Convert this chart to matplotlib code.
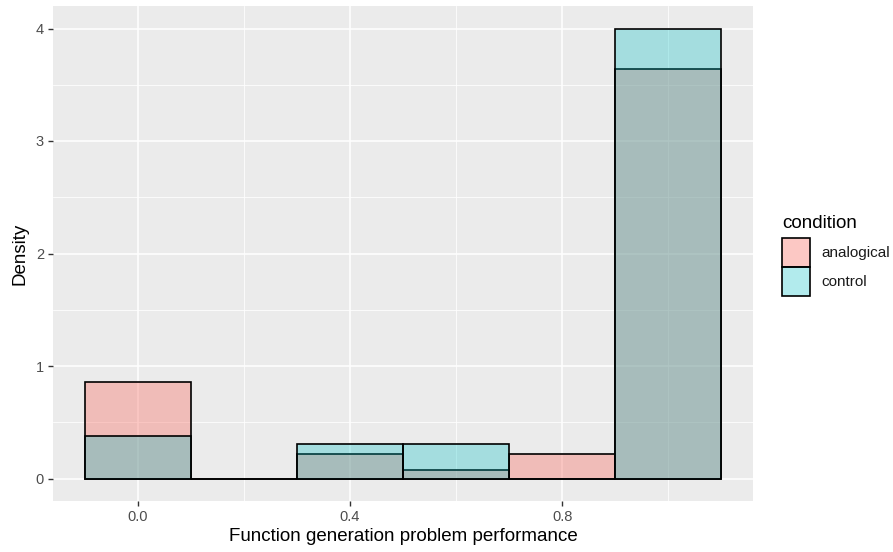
import matplotlib
matplotlib.use("Agg")
import matplotlib.pyplot as plt
from matplotlib.patches import Patch
from matplotlib.ticker import MultipleLocator
from matplotlib.colors import to_rgba

bin_centers = [0.0, 0.2, 0.4, 0.6, 0.8, 1.0]
analogical = [0.857, 0.0, 0.214, 0.0714, 0.214, 3.643]
control = [0.379, 0.0, 0.303, 0.303, 0.0, 4.0]
conditions = ["analogical", "control"]
x_ticks = [0.0, 0.4, 0.8]
x_tick_labels = ["0.0", "0.4", "0.8"]
y_ticks = [0, 1, 2, 3, 4]

plt.rcParams["font.family"] = ["Liberation Sans", "DejaVu Sans"]

colors = {"analogical": "#F8766D", "control": "#00BFC4"}
alphas = {"analogical": 0.4, "control": 0.3}
bw = 0.2

fig = plt.figure(figsize=(8.93, 5.52), dpi=100)
W, H = 893, 552
ax = fig.add_axes([53 / W, 1 - 501 / H, (753 - 53) / W, (501 - 6) / H])
ax.set_facecolor("#EBEBEB")
for s in ax.spines.values():
    s.set_visible(False)

ax.set_xlim(-0.16, 1.16)
ax.set_ylim(-0.2, 4.2)
ax.set_xticks(x_ticks)
ax.set_xticklabels(x_tick_labels)
ax.set_yticks(y_ticks)
ax.xaxis.set_minor_locator(MultipleLocator(0.2))
ax.yaxis.set_minor_locator(MultipleLocator(0.5))
ax.grid(which="major", color="white", linewidth=1.1)
ax.grid(which="minor", color="white", linewidth=0.55)
ax.set_axisbelow(True)
ax.tick_params(which="major", length=3.5, width=1.0, color="#333333",
               labelsize=10.5, labelcolor="#4D4D4D", pad=3)
ax.tick_params(which="minor", length=0)

z = 2
for name, vals in (("analogical", analogical), ("control", control)):
    ax.bar(bin_centers, vals, width=bw,
           color=to_rgba(colors[name], alphas[name]),
           edgecolor="none", zorder=z)
    ax.bar(bin_centers, vals, width=bw, fill=False, edgecolor="black",
           linewidth=1.2, zorder=z + 0.5)
    z += 1

ax.set_xlabel("Function generation problem performance", fontsize=13.5,
              labelpad=3, color="black")
ax.set_ylabel("Density", fontsize=13.5, labelpad=5, color="black")

handles = [Patch(facecolor=to_rgba(colors[c], alphas[c]),
                 edgecolor="black", linewidth=1.2) for c in conditions]
leg = fig.legend(handles, conditions, loc="upper left",
                 bbox_to_anchor=(782 / W, 1 - 238 / H), frameon=False,
                 fontsize=11, handlelength=1.85,
                 handleheight=2.55, handletextpad=0.75, labelspacing=0.0,
                 borderaxespad=0, borderpad=0)
for t in leg.get_texts():
    t.set_color("#1A1A1A")
fig.text(782 / W, 1 - 228 / H, "condition", fontsize=13.5, color="black",
         ha="left", va="baseline")

fig.savefig("out.png", dpi=100)
